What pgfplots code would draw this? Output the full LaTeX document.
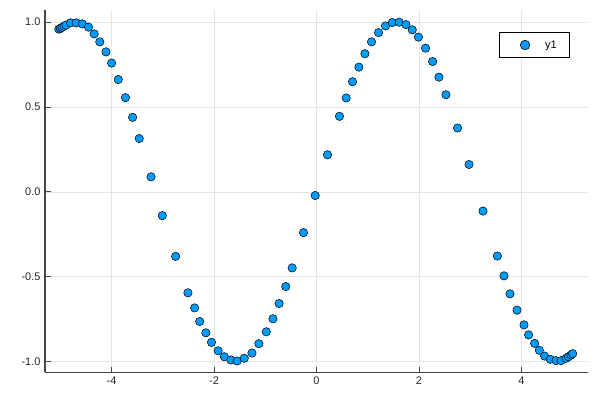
\documentclass[border=0pt]{standalone}
\usepackage{pgfplots}
\pgfplotsset{compat=1.18}
\usepackage{fontspec}
\setmainfont{Liberation Sans}
\definecolor{jblue}{RGB}{0,154,250}
\definecolor{axgray}{RGB}{70,70,70}
\begin{document}
\begin{tikzpicture}[x=1pt,y=1pt]
\useasboundingbox (0,0) rectangle (600,400);
\begin{axis}[
  at={(45pt,28pt)}, anchor=south west,
  scale only axis, width=543pt, height=362pt,
  xmin=-5.3, xmax=5.3, ymin=-1.063, ymax=1.072,
  axis x line=bottom, axis y line=left,
  axis line style={axgray, line width=1pt, -},
  xtick={-4,-2,0,2,4}, ytick={-1,-0.5,0,0.5,1},
  /pgf/number format/assume math mode=true,
  tick align=inside, major tick length=5.5pt,
  tick style={axgray, line width=0.7pt},
  ticklabel style={font=\fontsize{11}{13}\selectfont, text=black!85},
  xticklabel style={yshift=-1pt},
  yticklabel style={xshift=-1pt, /pgf/number format/.cd, fixed, fixed zerofill, precision=1},
  grid=major, major grid style={black!10, line width=0.5pt},
  legend style={at={(0.967,0.939)}, anchor=north east, draw=black, line width=0.8pt,
    font=\fontsize{11}{13}\selectfont, inner xsep=0pt, inner ysep=6pt,
    legend cell align=left},
  legend image code/.code={\path[draw=none, fill=none] (0pt,0pt) rectangle (44pt,0.01pt);
     \draw[fill=jblue, draw=black, line width=0.6pt] (26pt,0pt) circle (4.8pt);},
]
\addplot[only marks, mark=*, mark size=4.2pt, mark options={fill=jblue, draw=black, line width=0.5pt}] coordinates {
(-5.03,0.959) (-5.00,0.964) (-4.97,0.969) (-4.93,0.976) (-4.89,0.983)
(-4.80,0.996) (-4.69,0.996) (-4.57,0.990) (-4.45,0.971) (-4.34,0.931)
(-4.23,0.884) (-4.11,0.825) (-4.00,0.759) (-3.87,0.662) (-3.73,0.555)
(-3.59,0.439) (-3.46,0.314) (-3.23,0.088) (-3.01,-0.141) (-2.75,-0.381)
(-2.51,-0.596) (-2.38,-0.685) (-2.28,-0.765) (-2.16,-0.832) (-2.05,-0.888)
(-1.92,-0.938) (-1.80,-0.973) (-1.67,-0.992) (-1.55,-0.998) (-1.41,-0.982)
(-1.26,-0.951) (-1.125,-0.896) (-0.98,-0.826) (-0.85,-0.749) (-0.73,-0.659)
(-0.60,-0.559) (-0.475,-0.449) (-0.254,-0.241) (-0.025,-0.022) (0.215,0.218)
(0.449,0.445) (0.58,0.553) (0.703,0.649) (0.828,0.735) (0.945,0.814)
(1.074,0.884) (1.211,0.939) (1.348,0.978) (1.479,0.998) (1.615,1.000)
(1.746,0.986) (1.869,0.955) (1.99,0.912) (2.129,0.847) (2.266,0.768)
(2.39,0.676) (2.527,0.572) (2.754,0.376) (2.977,0.161) (3.25,-0.114)
(3.53,-0.379) (3.66,-0.496) (3.777,-0.602) (3.914,-0.698) (4.05,-0.785)
(4.14,-0.844) (4.258,-0.894) (4.35,-0.935) (4.453,-0.969) (4.564,-0.988)
(4.676,-0.996) (4.773,-0.996) (4.871,-0.982) (4.92,-0.973) (4.969,-0.963)
(5.00,-0.955)
};
\addlegendentry{y1\hspace*{11pt}}
\end{axis}
\end{tikzpicture}
\end{document}
